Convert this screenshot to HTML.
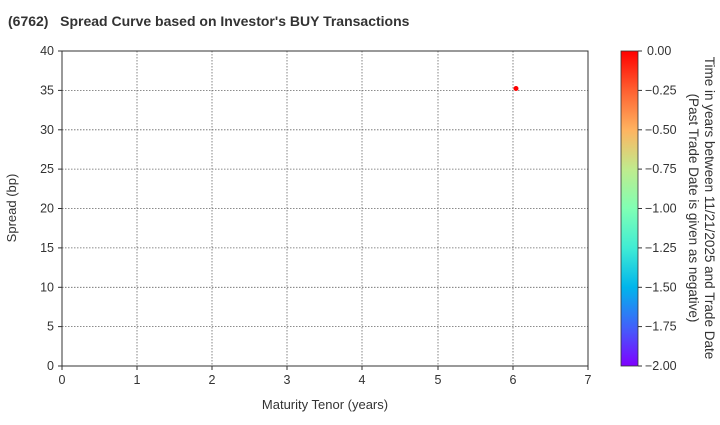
<!DOCTYPE html>
<html><head><meta charset="utf-8"><style>
body{margin:0;background:#fff;width:720px;height:420px;overflow:hidden}
svg text{font-family:"Liberation Sans",sans-serif;fill:#333}
</style></head><body>
<svg width="720" height="420" xmlns="http://www.w3.org/2000/svg">
<defs><linearGradient id="cb" x1="0" y1="1" x2="0" y2="0">
<stop offset="0" stop-color="#7f00ff"/><stop offset="0.125" stop-color="#4062fa"/>
<stop offset="0.25" stop-color="#00b5eb"/><stop offset="0.375" stop-color="#40ecd4"/>
<stop offset="0.5" stop-color="#80ffb4"/><stop offset="0.625" stop-color="#c0eb8d"/>
<stop offset="0.75" stop-color="#ffb360"/><stop offset="0.875" stop-color="#ff6030"/>
<stop offset="1" stop-color="#ff0000"/></linearGradient></defs>
<text x="8" y="26" font-size="14" font-weight="bold">(6762)&#160;&#160;&#160;Spread Curve based on Investor's BUY Transactions</text>
<g stroke="#666" stroke-dasharray="1.5,1.5" stroke-width="0.8">
<line x1="137" y1="51" x2="137" y2="366"/><line x1="212" y1="51" x2="212" y2="366"/>
<line x1="287" y1="51" x2="287" y2="366"/><line x1="362" y1="51" x2="362" y2="366"/>
<line x1="438" y1="51" x2="438" y2="366"/><line x1="513" y1="51" x2="513" y2="366"/>
<line x1="62" y1="90.4" x2="588" y2="90.4"/><line x1="62" y1="129.8" x2="588" y2="129.8"/>
<line x1="62" y1="169.1" x2="588" y2="169.1"/><line x1="62" y1="208.5" x2="588" y2="208.5"/>
<line x1="62" y1="247.9" x2="588" y2="247.9"/><line x1="62" y1="287.3" x2="588" y2="287.3"/>
<line x1="62" y1="326.6" x2="588" y2="326.6"/>
</g>
<rect x="62" y="51" width="526" height="315" fill="none" stroke="#333" stroke-width="1"/>
<g stroke="#333"><line x1="62" y1="366" x2="62" y2="370"/><line x1="137" y1="366" x2="137" y2="370"/><line x1="212" y1="366" x2="212" y2="370"/><line x1="287" y1="366" x2="287" y2="370"/><line x1="362" y1="366" x2="362" y2="370"/><line x1="438" y1="366" x2="438" y2="370"/><line x1="513" y1="366" x2="513" y2="370"/><line x1="588" y1="366" x2="588" y2="370"/>
<line x1="58" y1="51" x2="62" y2="51"/><line x1="58" y1="90.4" x2="62" y2="90.4"/><line x1="58" y1="129.8" x2="62" y2="129.8"/><line x1="58" y1="169.1" x2="62" y2="169.1"/><line x1="58" y1="208.5" x2="62" y2="208.5"/><line x1="58" y1="247.9" x2="62" y2="247.9"/><line x1="58" y1="287.3" x2="62" y2="287.3"/><line x1="58" y1="326.6" x2="62" y2="326.6"/><line x1="58" y1="366" x2="62" y2="366"/></g>
<g font-size="12.5" text-anchor="middle"><text x="62" y="384">0</text><text x="137" y="384">1</text><text x="212" y="384">2</text><text x="287" y="384">3</text><text x="362" y="384">4</text><text x="438" y="384">5</text><text x="513" y="384">6</text><text x="588" y="384">7</text></g>
<g font-size="12.5" text-anchor="end"><text x="54" y="55">40</text><text x="54" y="94.4">35</text><text x="54" y="133.8">30</text><text x="54" y="173.1">25</text><text x="54" y="212.5">20</text><text x="54" y="251.9">15</text><text x="54" y="291.3">10</text><text x="54" y="330.6">5</text><text x="54" y="370">0</text></g>
<text x="325" y="409" font-size="13" text-anchor="middle">Maturity Tenor (years)</text>
<text transform="translate(16,208) rotate(-90)" font-size="13" text-anchor="middle">Spread (bp)</text>
<circle cx="516" cy="88.5" r="2.5" fill="#ff0000"/>
<rect x="621" y="51" width="17" height="315" fill="url(#cb)" stroke="#333" stroke-width="0.8"/>
<g stroke="#333"><line x1="638" y1="51" x2="642" y2="51"/><line x1="638" y1="90.4" x2="642" y2="90.4"/><line x1="638" y1="129.8" x2="642" y2="129.8"/><line x1="638" y1="169.1" x2="642" y2="169.1"/><line x1="638" y1="208.5" x2="642" y2="208.5"/><line x1="638" y1="247.9" x2="642" y2="247.9"/><line x1="638" y1="287.3" x2="642" y2="287.3"/><line x1="638" y1="326.6" x2="642" y2="326.6"/><line x1="638" y1="366" x2="642" y2="366"/></g>
<g font-size="12.5"><text x="647" y="55">0.00</text><text x="645" y="94.4">−0.25</text><text x="645" y="133.8">−0.50</text><text x="645" y="173.1">−0.75</text><text x="645" y="212.5">−1.00</text><text x="645" y="251.9">−1.25</text><text x="645" y="291.3">−1.50</text><text x="645" y="330.6">−1.75</text><text x="645" y="370">−2.00</text></g>
<g font-size="13.5" text-anchor="middle"><text transform="translate(705,208) rotate(90)">Time in years between 11/21/2025 and Trade Date</text><text transform="translate(689,208) rotate(90)">(Past Trade Date is given as negative)</text></g>
</svg>
</body></html>
